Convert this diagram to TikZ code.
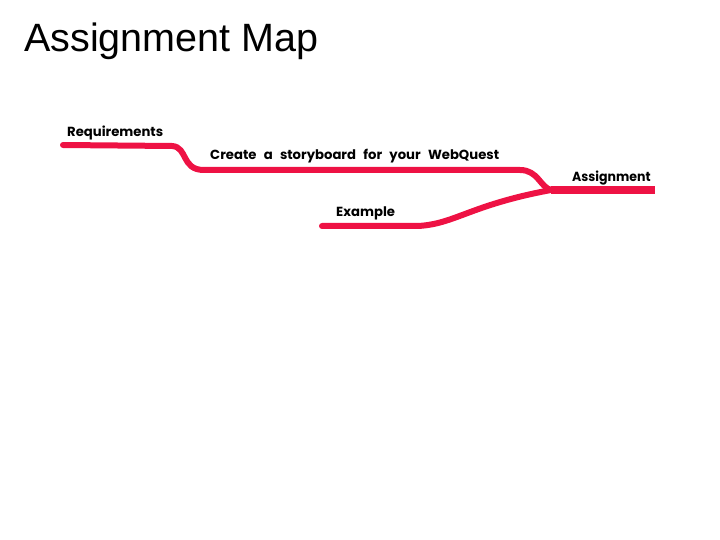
\documentclass[tikz,border=0pt]{standalone}
\usepackage{fontspec}
\setmainfont{Liberation Sans}
\newfontfamily\mapfont{Poppins}[WordSpace=2.6]
\definecolor{branchred}{RGB}{238,18,68}
\begin{document}
\begin{tikzpicture}[
	x=1pt,
	y=-1pt,
	title/.style={
		anchor=base west,
		inner sep=0pt,
		font=\fontsize{39.5}{44}\selectfont
	},
	label/.style={
		anchor=base west,
		inner sep=0pt,
		font=\mapfont\bfseries\fontsize{13.2}{15}\selectfont
	},
	branch/.style={
		draw=branchred,
		line width=6pt,
		line cap=round,
		line join=round
	},
	trunk/.style={
		draw=branchred,
		line width=8pt
	},
]

\useasboundingbox (0,0) rectangle (720,540);

\node[title] (title) at (24,52) {Assignment Map};

% Branches
\coordinate (req) at (63,145);
\coordinate (ex) at (322,226);
\coordinate (join) at (551,190);
\coordinate (asg) at (655,190);

\draw[branch] (req) -- (172,146) .. controls (188,147) and (181,170) .. (204,170)
	-- (520,170) .. controls (538,170) and (540,187) .. (join);
\draw[branch] (ex) -- (418,226) .. controls (455,224) and (470,205) .. (join);
\draw[trunk] (join) -- (asg);

% Labels
\node[label] (reqlabel) at (67,137) {Requirements};
\node[label] (storylabel) at (210,160) {Create a storyboard for your WebQuest};
\node[label] (exlabel) at (336,216) {Example};
\node[label,xscale=0.95] (asglabel) at (572,182) {Assignment};

\end{tikzpicture}
\end{document}
